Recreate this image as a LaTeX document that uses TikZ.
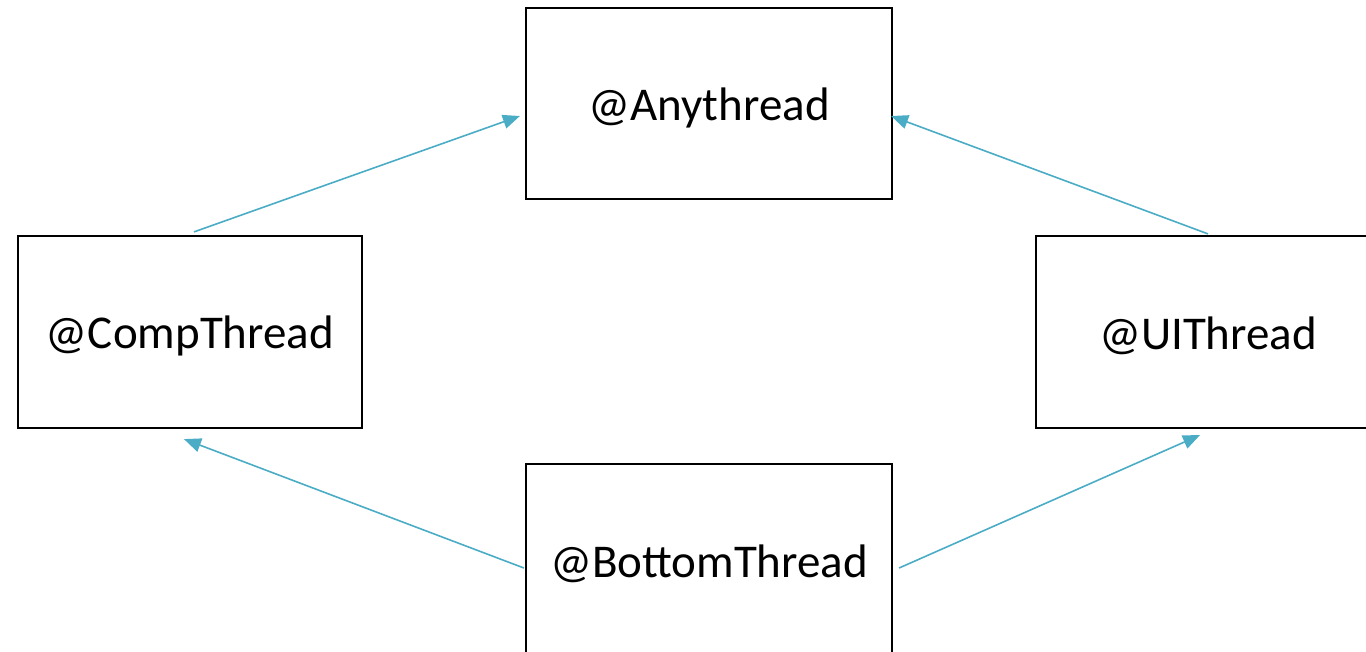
\documentclass[tikz,border=0pt]{standalone}
\usepackage{fontspec}
\setmainfont{Carlito}
\usetikzlibrary{arrows.meta}
\definecolor{arrowblue}{HTML}{4BACC6}
\newcommand{\lowtext}[1]{\raisebox{-4pt}[\height][\depth]{#1}}
\begin{document}
\begin{tikzpicture}[x=1pt,y=-1pt,
  box/.style={draw=black,line width=2.2pt,minimum width=#1,inner sep=0pt,font=\fontsize{47}{50}\selectfont},
  box/.default=366pt,
  arr/.style={draw=arrowblue,line width=1.6pt,-{Triangle[length=17pt,width=14pt]}}]
\useasboundingbox (0,0) rectangle (1366,651);
\clip (0,0) rectangle (1366,651);
\node[box=366pt,minimum height=191pt] (any) at (709,103.5) {\lowtext{@Anythread}};
\node[box=344pt,minimum height=192pt] (comp) at (190,332) {\lowtext{@CompThread}};
\node[box=344pt,minimum height=192pt] (ui) at (1208,332) {\lowtext{@UIThread}};
\node[box=366pt,minimum height=191pt] (bot) at (709,559.5) {\lowtext{@BottomThread}};
\draw[arr] ([xshift=4pt,yshift=3pt]comp.north) -- ([xshift=-5pt,yshift=-12.5pt]any.west);
\draw[arr] ([yshift=1pt]ui.north) -- ([xshift=-2pt,yshift=-12.5pt]any.east);
\draw[arr] ([xshift=-1pt,yshift=-8.5pt]bot.west) -- ([xshift=-6pt,yshift=-10pt]comp.south);
\draw[arr] ([xshift=6pt,yshift=-8.5pt]bot.east) -- ([xshift=-8pt,yshift=-6pt]ui.south);
\end{tikzpicture}
\end{document}
